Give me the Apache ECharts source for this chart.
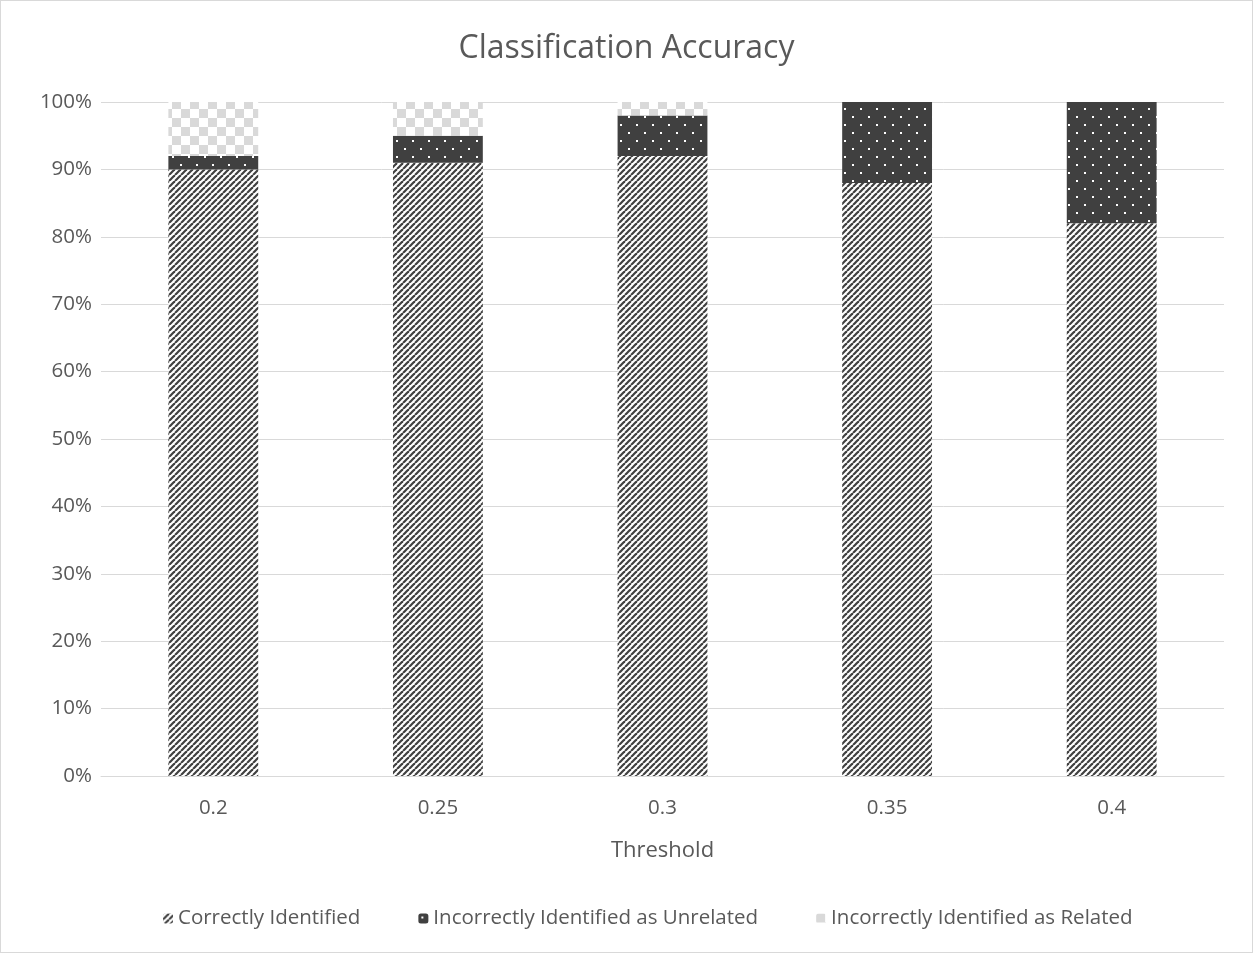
<!DOCTYPE html>
<html><head><meta charset="utf-8">
<script src="https://cdn.jsdelivr.net/npm/echarts@6/dist/echarts.min.js"></script>
<style>html,body{margin:0;padding:0;background:#fff}#c{width:1253px;height:953px;box-sizing:border-box;border:1px solid #d9d9d9}</style>
</head><body><div id="c"></div>
<script>
const categories = ['0.2','0.25','0.3','0.35','0.4'];
const correctlyIdentified = [90, 91, 92, 88, 82];
const incorrectUnrelated = [2, 4, 6, 12, 18];
const incorrectRelated = [8, 5, 2, 0, 0];
const seriesNames = ['Correctly Identified','Incorrectly Identified as Unrelated','Incorrectly Identified as Related'];

function stripes(){
  const c=document.createElement('canvas');c.width=6;c.height=6;const g=c.getContext('2d');
  g.fillStyle='#fff';g.fillRect(0,0,6,6);
  g.strokeStyle='#404040';g.lineWidth=2.2;
  for(let k=-6;k<=12;k+=6){g.beginPath();g.moveTo(k,6);g.lineTo(k+6,0);g.stroke();}
  return c;
}
function dots(){
  const c=document.createElement('canvas');c.width=16;c.height=16;const g=c.getContext('2d');
  g.fillStyle='#404040';g.fillRect(0,0,16,16);
  g.fillStyle='#fff';g.fillRect(3,3,2,2);g.fillRect(11,11,2,2);
  return c;
}
function checker(){
  const c=document.createElement('canvas');c.width=18;c.height=18;const g=c.getContext('2d');
  g.fillStyle='#fff';g.fillRect(0,0,18,18);
  g.fillStyle='#d9d9d9';g.fillRect(0,0,9,9);g.fillRect(9,9,9,9);
  return c;
}
const font='Open Sans';
const chart=echarts.init(document.getElementById('c'));
chart.setOption({
  animation:false,
  title:{text:'Classification Accuracy',left:'center',top:27,textStyle:{fontFamily:font,fontSize:32,fontWeight:'normal',color:'#595959'}},
  grid:{left:100,right:28,top:101,bottom:176},
  legend:{left:157,bottom:18,itemWidth:10,itemHeight:10,itemGap:58,textStyle:{fontFamily:font,fontSize:20.5,color:'#595959'},data:seriesNames},
  xAxis:{type:'category',data:categories,name:'Threshold',nameLocation:'middle',nameGap:64,
    nameTextStyle:{fontFamily:font,fontSize:22,color:'#595959'},
    axisLine:{lineStyle:{color:'#d9d9d9'}},axisTick:{show:false},
    axisLabel:{fontFamily:font,fontSize:20.5,color:'#595959',margin:22}},
  yAxis:{type:'value',min:0,max:100,interval:10,
    axisLabel:{formatter:'{value}%',fontFamily:font,fontSize:20.5,color:'#595959',margin:9},
    splitLine:{lineStyle:{color:'#d9d9d9'}},axisLine:{show:false},axisTick:{show:false}},
  series:[
    {name:seriesNames[0],type:'bar',stack:'a',barWidth:'40%',data:correctlyIdentified,itemStyle:{color:{image:stripes(),repeat:'repeat'}}},
    {name:seriesNames[1],type:'bar',stack:'a',data:incorrectUnrelated,itemStyle:{color:{image:dots(),repeat:'repeat'}}},
    {name:seriesNames[2],type:'bar',stack:'a',data:incorrectRelated,itemStyle:{color:{image:checker(),repeat:'repeat'}}}
  ]
});
</script></body></html>
